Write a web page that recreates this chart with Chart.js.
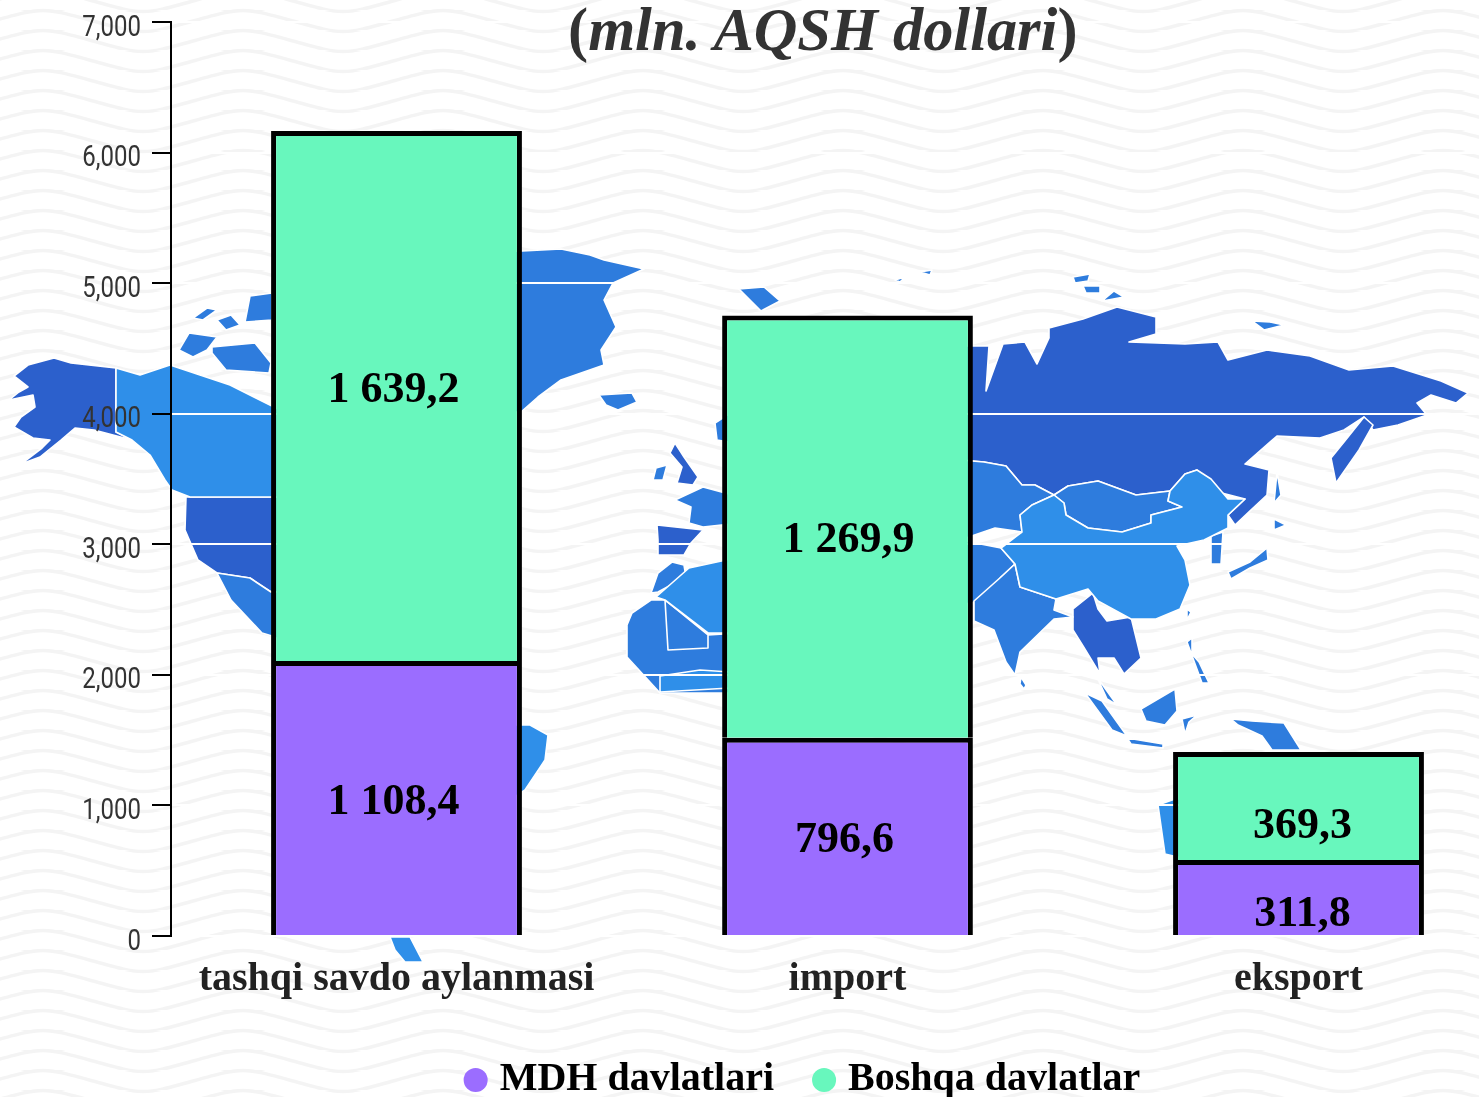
<!DOCTYPE html>
<html>
<head>
<meta charset="utf-8">
<title>Tashqi savdo</title>
<script src="https://cdn.jsdelivr.net/npm/chart.js@4"></script>
<style>
    html, body { margin: 0; padding: 0; width: 1479px; height: 1097px; overflow: hidden; background: #fff; }
    #waves, #map { position: absolute; left: 0; top: 0; width: 1479px; height: 1097px; }
    #waves { background-position: -107px -9.5px; background-image: url("data:image/svg+xml,%3Csvg xmlns='http://www.w3.org/2000/svg' width='200' height='20'%3E%3Cdefs%3E%3Cpath id='w' d='M-100 10 C-50 -4 -50 -4 0 10 S50 24 100 10 S150 -4 200 10 S250 24 300 10' fill='none' stroke='%23f4f4f4' stroke-width='3.4'/%3E%3C/defs%3E%3Cuse href='%23w' y='-20'/%3E%3Cuse href='%23w'/%3E%3Cuse href='%23w' y='20'/%3E%3C/svg%3E"); }
    #map polygon { stroke: #fff; stroke-width: 1.6; stroke-linejoin: round; }
    .dark polygon { fill: #2c60cc; }
    .mid polygon { fill: #2e7cdd; }
    .light polygon { fill: #2f8fe9; }
    #chart-box { position: absolute; left: 0; top: 0; }
    #main-title { position: absolute; left: 568px; top: -5px; font: bold 60.4px "Liberation Serif", serif; color: #333; white-space: nowrap; }
</style>
</head>
<body>
<div id="waves"></div>
<svg id="map" viewBox="0 0 1479 1097">
    <g class="dark">
        <!-- Alaska -->
        <polygon points="14,376 28,365 54,358 71,363 116,368 116,432 132,440 94,430 75,428 61,440 40,457 21,464 42,448 50,440 33,438 14,427 21,417 35,407 33,395 9,400 19,392 28,387"/>
        <!-- USA -->
        <polygon points="186,497 300,497 300,592 271,592 250,578 217,573 198,560 185,530"/>
        <!-- UK, Spain -->
        <polygon points="675,443 684,457 698,477 693,485 677,483 682,467 670,453"/>
        <polygon points="657,525 703,530 691,543 684,555 658,555 658,540"/>
        <!-- Russia -->
        <polygon points="960,346 989,346 986,391 1003,344 1025,342 1037,364 1049,338 1049,328 1083,319 1117,307 1156,317 1156,334 1129,342 1185,344 1218,342 1228,360 1267,350 1310,356 1349,370 1393,366 1441,381 1468,393 1456,403 1431,395 1417,403 1427,415 1398,425 1373,430 1364,417 1344,430 1320,438 1277,436 1245,464 1269,470 1267,495 1235,525 1228,515 1245,499 1214,491 1197,470 1185,474 1170,491 1136,495 1098,481 1068,486 1054,495 1035,485 1022,485 1006,466 984,462 960,460"/>
        <polygon points="1364,417 1344,442 1331,458 1336,483 1359,450 1373,425"/>
        <!-- SE Asia -->
        <polygon points="1073,609 1093,593 1098,609 1107,621 1131,617 1141,658 1124,674 1114,658 1098,658 1100,674 1083,646 1073,630"/>
    </g>
    <g class="mid">
        <!-- Canadian islands -->
        <polygon points="179,350 189,333 217,337 207,350 193,357"/>
        <polygon points="212,353 212,347 255,343 271,363 269,373 226,370"/>
        <polygon points="193,318 207,308 217,310 203,320"/>
        <polygon points="217,320 231,315 240,325 226,330"/>
        <polygon points="250,296 272,293 272,320 245,322"/>
        <!-- Greenland, Iceland -->
        <polygon points="500,252 561,249 590,255 604,260 644,269 613,283 604,300 616,327 601,350 604,365 561,380 538,397 521,412 500,412"/>
        <polygon points="599,395 632,393 637,402 618,410 606,405"/>
        <!-- Mexico -->
        <polygon points="217,573 250,578 271,592 290,592 290,645 272,636 262,633 231,600"/>
        <!-- Ireland, France, Norway, Morocco -->
        <polygon points="656,468 667,465 663,480 653,480"/>
        <polygon points="675,500 703,487 740,497 740,523 703,527 689,523 691,507"/>
        <polygon points="715,423 735,410 735,443 717,440"/>
        <polygon points="651,593 658,573 672,562 684,565 686,577 658,592"/>
        <!-- West Africa -->
        <polygon points="627,625 632,613 651,600 665,600 708,635 740,633 740,693 660,693 627,657"/>
        <polygon points="665,600 668,650 708,648 708,635"/>
        <!-- Svalbard and Arctic islands -->
        <polygon points="739,289 764,287 780,301 761,311 749,299"/>
        <polygon points="1073,277 1090,274 1088,281 1075,283"/>
        <polygon points="1083,286 1100,286 1100,293 1086,293"/>
        <polygon points="1102,301 1114,291 1124,297 1108,300"/>
        <polygon points="1252,321 1270,322 1284,325 1264,330"/>
        <polygon points="895,280 905,277 900,282"/>
        <polygon points="920,272 932,270 930,275"/>
        <!-- Central Asia -->
        <polygon points="960,460 984,462 1006,466 1022,485 1035,485 1054,495 1032,505 1020,515 1022,532 995,528 960,540"/>
        <polygon points="1054,495 1068,486 1098,481 1136,495 1170,491 1168,501 1182,507 1151,515 1151,523 1122,532 1088,528 1066,515 1064,503"/>
        <polygon points="960,540 1001,548 1015,564 1001,577 985,600 960,605"/>
        <!-- India -->
        <polygon points="974,601 1001,577 1015,564 1020,587 1056,599 1054,610 1073,617 1054,619 1020,652 1015,675 1006,662 994,630 974,621"/>
        <polygon points="1021,677 1026,685 1024,689 1020,684"/>
        <!-- Islands of SE Asia -->
        <polygon points="1085,693 1102,701 1127,736 1112,730"/>
        <polygon points="1127,738 1163,744 1163,748 1131,744"/>
        <polygon points="1141,709 1175,689 1177,711 1165,725 1146,721"/>
        <polygon points="1097,677 1117,705 1107,699"/>
        <polygon points="1182,719 1197,715 1189,722 1185,734"/>
        <polygon points="1187,642 1192,638 1192,654 1199,662 1209,683 1202,683"/>
        <polygon points="1187,609 1191,612 1187,620"/>
        <polygon points="1231,719 1252,721 1284,723 1301,750 1272,750 1262,736 1238,725"/>
        <!-- Korea, Japan, Sakhalin -->
        <polygon points="1211,536 1223,532 1221,564 1211,564"/>
        <polygon points="1228,572 1250,562 1267,548 1268,560 1250,568 1231,579"/>
        <polygon points="1274,519 1286,525 1274,530"/>
        <polygon points="1277,472 1281,495 1274,503"/>
    </g>
    <g class="light">
        <!-- Canada -->
        <polygon points="116,368 140,375 170,365 230,385 300,420 300,497 190,497 172,490 165,480 150,455 132,440 116,432"/>
        <!-- Algeria -->
        <polygon points="656,597 689,568 740,557 740,633 708,633 665,600"/>
        <!-- Gulf of Guinea -->
        <polygon points="660,676 700,670 730,672 730,688 660,692"/>
        <!-- China -->
        <polygon points="1054,495 1064,503 1066,515 1088,528 1122,532 1151,523 1151,515 1182,507 1168,501 1170,491 1185,474 1197,470 1211,479 1228,499 1245,499 1228,515 1228,528 1204,540 1177,546 1185,560 1190,585 1180,609 1156,619 1131,619 1098,601 1088,589 1056,599 1020,587 1015,564 1001,548 1022,532 1020,515 1032,505"/>
        <!-- South America, Australia, Madagascar pieces next to the bars -->
        <polygon points="510,725 530,725 548,735 545,760 525,790 510,800"/>
        <polygon points="1158,805 1175,799 1190,799 1190,860 1165,854"/>
        <polygon points="390,937 410,937 423,962 405,962 395,950"/>
    </g>
</svg>
<div id="chart-box"><canvas id="main-chart" width="1525" height="1097"></canvas></div>
<div id="main-title">(<i>mln. AQSH dollari</i>)</div>

<script>
// Valores
const categories = ['tashqi savdo aylanmasi', 'import', 'eksport'];
const seriesNames = ['MDH davlatlari', 'Boshqa davlatlar'];
const mdhValues = [2106, 1518, 582];
const boshqaValues = [4059, 3234, 827];
const mdhLabels = ['1 108,4', '796,6', '311,8'];
const boshqaLabels = ['1 639,2', '1 269,9', '369,3'];
const axisTicks = [0, 1000, 2000, 3000, 4000, 5000, 6000, 7000];

// Os rótulos não ficam exatamente no centro das barras
const labelNudge = [
    [[-3, 5], [-3, 4], [4, 17]],
    [[-3, -5], [1, 14], [4, 21]]
];
const allLabels = [mdhLabels, boshqaLabels];

const serif = '"Liberation Serif", serif';

const barLabelsPlugin = {
    id: 'barLabels',
    afterDatasetsDraw(chart) {
        const ctx = chart.ctx;
        ctx.save();
        ctx.font = `bold 44px ${serif}`;
        ctx.fillStyle = '#000';
        ctx.textAlign = 'center';
        ctx.textBaseline = 'middle';
        chart.data.datasets.forEach((ds, i) => {
            chart.getDatasetMeta(i).data.forEach((bar, j) => {
                const [dx, dy] = labelNudge[i][j];
                ctx.fillText(allLabels[i][j], bar.x + dx, (bar.y + bar.base) / 2 + dy);
            });
        });
        ctx.restore();
    }
};

// Legenda deslocada, como no original; números do eixo y mais estreitos
const layoutTweaksPlugin = {
    id: 'layoutTweaks',
    afterLayout(chart) {
        chart.legend.left += 44;
        chart.legend.right += 44;
        chart.legend.top += 13;
        chart.legend.bottom += 13;
        const yScale = chart.scales.y;
        if (!yScale.tweaked) {
            const drawLabels = yScale.drawLabels;
            yScale.drawLabels = function (area) {
                const ctx = this.ctx;
                ctx.save();
                ctx.translate(141, 6);
                ctx.scale(0.8, 1);
                ctx.translate(-142, 0);
                drawLabels.call(this, area);
                ctx.restore();
            };
            yScale.tweaked = true;
        }
    }
};

new Chart(document.getElementById('main-chart'), {
    type: 'bar',
    data: {
        labels: categories,
        datasets: [{
            label: seriesNames[0],
            data: mdhValues,
            backgroundColor: '#9b6dff',
            borderColor: '#000',
            borderWidth: 5,
            pointStyle: 'circle'
        }, {
            label: seriesNames[1],
            data: boshqaValues,
            backgroundColor: '#68f7bd',
            borderColor: '#000',
            borderWidth: 5,
            pointStyle: 'circle'
        }]
    },
    options: {
        responsive: false,
        animation: false,
        barPercentage: 0.556,
        categoryPercentage: 1,
        layout: { padding: { top: 22, left: 0, right: 1, bottom: 0 } },
        plugins: {
            tooltip: { enabled: false },
            legend: {
                position: 'bottom',
                labels: {
                    usePointStyle: true,
                    boxWidth: 8,
                    boxHeight: 17,
                    padding: 46,
                    color: '#000',
                    font: { family: serif, size: 40, weight: 'bold' },
                    generateLabels(chart) {
                        return Chart.defaults.plugins.legend.labels.generateLabels(chart)
                            .map(item => ({ ...item, lineWidth: 0, strokeStyle: 'transparent' }));
                    }
                }
            }
        },
        scales: {
            x: {
                stacked: true,
                border: { color: '#fff', width: 2 },
                grid: { display: false },
                ticks: {
                    color: '#222',
                    padding: 12,
                    maxRotation: 0,
                    font: { family: serif, size: 40, weight: 'bold' }
                },
                afterFit(scale) { scale.height = 65; }
            },
            y: {
                stacked: true,
                min: 0,
                max: 7000,
                afterBuildTicks(scale) { scale.ticks = axisTicks.map(v => ({ value: v })); },
                border: { color: '#000', width: 2 },
                grid: { color: '#fff', lineWidth: 2, tickColor: '#000', tickLength: 19, tickWidth: 2 },
                ticks: {
                    color: '#333',
                    padding: 10,
                    font: { family: 'Roboto, sans-serif', size: 30 }
                },
                afterFit(scale) {
                    scale.width = 171;
                    scale.paddingTop = 0;
                }
            }
        }
    },
    plugins: [barLabelsPlugin, layoutTweaksPlugin]
});
</script>
</body>
</html>
